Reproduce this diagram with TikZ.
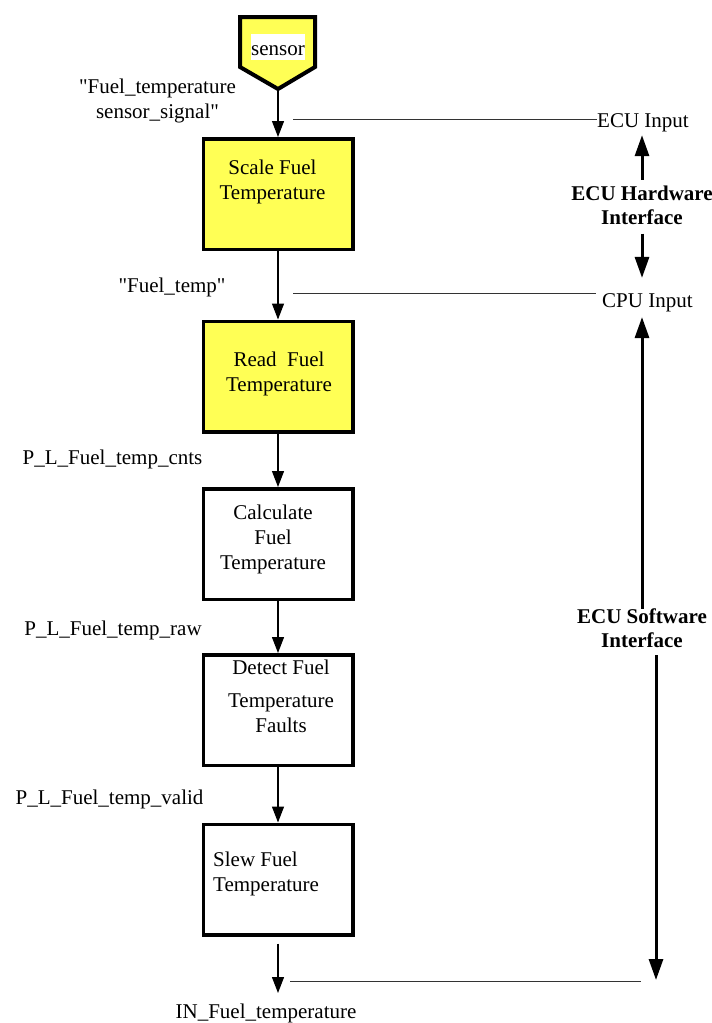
\documentclass[tikz,border=0pt]{standalone}
\usepackage{fontspec}
\setmainfont{Liberation Serif}
\usepackage{xcolor}
\definecolor{sigyellow}{RGB}{255,255,85}
\usepackage{tikz}
\usetikzlibrary{arrows.meta, calc}

\begin{document}
\begin{tikzpicture}[
    x=1pt, y=-1pt,
    proc/.style ={rectangle, draw=black, line width=3.5pt, fill=white,
                  minimum width=149.5pt, minimum height=110.5pt},
    hwproc/.style ={proc, fill=sigyellow},
    proctext/.style ={font=\fontsize{21}{25}\selectfont, align=center, inner sep=0pt},
    sigtext/.style ={font=\fontsize{21}{25}\selectfont, align=center, inner sep=0pt},
    flow/.style ={line width=1.3pt, -{Triangle[length=16pt, width=12pt]}},
    ifline/.style ={line width=1pt, color=black!80},
    ifarrow/.style ={line width=3pt, -{Triangle[length=21pt, width=14pt]}},
    iftext/.style ={font=\fontsize{21}{24}\selectfont\bfseries, align=center, inner sep=0pt}
]
\useasboundingbox (0,0) rectangle (712,1023);

%% --- sensor symbol ---
\draw[line width=4pt, line join=miter, fill=sigyellow]
    (240,17) -- (315,17) -- (315,67) -- (278,89) -- (240,67) -- cycle;
\coordinate (stip) at (278,91);
\node[font=\fontsize{21}{25}\selectfont, fill=white, inner xsep=0.5pt, inner ysep=1pt,
      text height=20pt, text depth=4pt, anchor=base] (sens) at (278,55) {sensor};

%% --- processing chain ---
\node[hwproc] (b1) at (278,194)   {};
\node[hwproc] (b2) at (278,376.5) {};
\node[proc]   (b3) at (278,544)   {};
\node[proc]   (b4) at (278,710)   {};
\node[proc]   (b5) at (278,879.5) {};

\node[proctext] (t1) at (272.5,182) {Scale Fuel\\Temperature};
\node[proctext] (t2) at (279,374) {Read\ \ Fuel\\Temperature};
\node[proctext] (t3) at (273,539) {Calculate\\Fuel\\Temperature};
\node[proctext] (t4) at (281,696) {Detect Fuel\\[8pt]Temperature\\Faults};
\node[proctext, align=left, anchor=west] (t5) at (213,874) {Slew Fuel\\Temperature};

\coordinate (fout) at (278,993);
\draw[flow] (stip) -- (stip |- b1.north);
\draw[flow] (b1) -- (b2);
\draw[flow] (b2) -- (b3);
\draw[flow] (b3) -- (b4);
\draw[flow] (b4) -- (b5);
\draw[flow, shorten <=7pt] (b5) -- (fout);

%% --- signal names ---
\node[sigtext] (lsig) at (157.5,101)
    {\textquotedbl Fuel\_temperature\\sensor\_signal\textquotedbl};
\node[sigtext, anchor=base] (lft)  at (172,292)   {\textquotedbl Fuel\_temp\textquotedbl};
\node[sigtext, anchor=base] (lcnt) at (112.5,464) {P\_L\_Fuel\_temp\_cnts};
\node[sigtext, anchor=base] (lraw) at (113,635)   {P\_L\_Fuel\_temp\_raw};
\node[sigtext, anchor=base] (lval) at (109.5,804) {P\_L\_Fuel\_temp\_valid};
\node[sigtext, anchor=base] (lin)  at (266,1018)  {IN\_Fuel\_temperature};

%% --- interface levels ---
\node[sigtext, anchor=base west] (ecuin) at (597,127) {ECU Input};
\node[sigtext, anchor=base west] (cpuin) at (602,307) {CPU Input};
\coordinate (ecuL) at (293,119);
\coordinate (cpuL) at (293,293);
\coordinate (botL) at (290,981);
\coordinate (botR) at (641,981);
\draw[ifline] (ecuL) -- (ecuL -| ecuin.west);
\draw[ifline, shorten >=6pt] (cpuL) -- (cpuL -| cpuin.west);
\draw[ifline] (botL) -- (botR);

\node[iftext] (hw) at (642,205)   {ECU Hardware\\Interface};
\node[iftext] (sw) at (642,628.5) {ECU Software\\Interface};

\draw[ifarrow, shorten <=5.7pt, shorten >=3.5pt] (hw.north) -- (hw.north |- ecuin.south);
\draw[ifarrow, shorten <=9pt, shorten >=15pt] (hw.south) -- (hw.south |- cpuin.north);
\draw[ifarrow, shorten >=5.4pt] (sw.north) -- (sw.north |- cpuin.south);
\coordinate (swend) at (656,980);
\draw[ifarrow, shorten <=7pt] (sw.south -| swend) -- (swend);
\end{tikzpicture}
\end{document}
